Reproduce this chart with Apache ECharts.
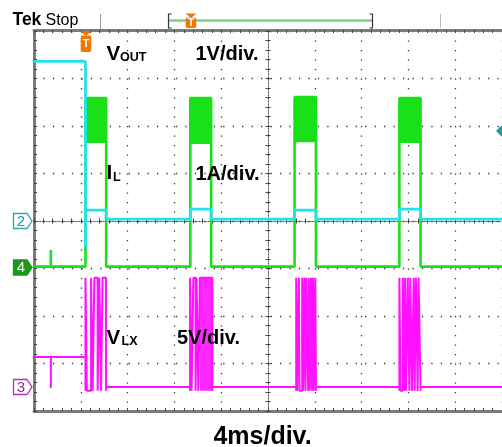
<!DOCTYPE html>
<html><head><meta charset="utf-8">
<script src="https://cdn.jsdelivr.net/npm/echarts@6/dist/echarts.min.js"></script>
<style>html,body{margin:0;padding:0;background:#fff}#c{width:502px;height:447px}</style>
</head><body><div id="c"></div>
<script>
// ---- time base: 4 ms/div, 10 divisions (ms) ----
const timeTicks = [0, 4, 8, 12, 16, 20, 24, 28, 32, 36, 40];
// burst windows (ms)
const burstStart = [4.40, 13.36, 22.27, 31.23];
const burstEnd   = [6.17, 15.14, 24.10, 33.04];

// ---- CH2 VOUT (V), 1 V/div ----
const voutBefore  = 3.36;
const voutDip     = -0.55;
const voutInBurst = [0.23, 0.25, 0.23, 0.25];
const voutIdle    = 0.04;

// ---- CH4 IL (A), 1 A/div ----
const ilIdle      = 0;
const ilSpike     = [1.44, 0.35];          // [ms, A]
const ilBandLow   = [2.60, 2.58, 2.62, 2.60];
const ilBandHigh  = [3.55, 3.55, 3.57, 3.55];

// ---- CH3 VLX (V), 5 V/div ----
const vlxBefore   = 3.26;
const vlxSpike    = [1.44, 0.0];           // [ms, V]
const vlxHigh     = 11.6;
const vlxLow      = -0.3;
const vlxIdle     = 0.1;
// switching pulses (ms) inside each burst: [rise, fall]
const vlxPulses = [
  [[4.40,4.51],[4.88,5.01],[5.16,5.44],[5.58,5.73],[5.86,6.15]],
  [[13.34,13.47],[13.62,13.81],[13.89,14.04],[14.18,15.25]],
  [[22.41,22.49],[22.64,22.69],[22.92,23.00],[23.11,23.20],[23.28,23.43],[23.49,23.57],[23.68,23.77],[23.85,23.91],[24.04,24.10]],
  [[31.23,31.33],[31.52,31.65],[31.71,31.80],[31.94,32.08],[32.16,32.31],[32.45,32.53],[32.64,32.79],[32.87,33.04]]
];
// bursts where switching is too dense to resolve (ms)
const vlxDense = [[14.18, 15.25]];

// ---------- build series data ----------
function buildVout(){
  const d = [[0, voutBefore], [burstStart[0], voutBefore], [burstStart[0], voutDip]];
  burstStart.forEach((s, i) => {
    if (i > 0) d.push([s, voutIdle]);
    d.push([s, voutInBurst[i]], [burstEnd[i], voutInBurst[i]], [burstEnd[i], voutIdle]);
  });
  d.push([timeTicks[timeTicks.length-1], voutIdle]);
  return d;
}
function buildIL(){
  const d = [[0, ilIdle], [ilSpike[0], ilIdle], [ilSpike[0], ilSpike[1]], [ilSpike[0], ilIdle]];
  burstStart.forEach((s, i) => {
    d.push([s, ilIdle], [s, ilBandHigh[i]], [burstEnd[i], ilBandHigh[i]], [burstEnd[i], ilIdle]);
  });
  d.push([timeTicks[timeTicks.length-1], ilIdle]);
  return d;
}
function buildVlx(){
  const d = [[0, vlxBefore], [vlxSpike[0], vlxBefore], [vlxSpike[0], vlxSpike[1]], [vlxSpike[0], vlxBefore]];
  vlxPulses.forEach((burst, i) => {
    d.push([burst[0][0], i === 0 ? vlxBefore : vlxIdle]);
    burst.forEach(([a, b]) => { d.push([a, vlxLow], [a, vlxHigh], [b, vlxHigh], [b, vlxLow]); });
    d.push([burst[burst.length-1][1], vlxIdle]);
  });
  d.push([timeTicks[timeTicks.length-1], vlxIdle]);
  return d;
}

const FONT = '"Liberation Sans", Arial, sans-serif';
const dotH = [1.3, 8.16];   // dots along horizontal graticule lines
const dotV = [1.3, 8.2];    // dots along vertical graticule lines
const tickCol = '#444';
const borderCol = '#7c7c7c';

function centerX(inside, split){
  return {gridIndex:0, type:'value', min:-5, max:5, interval:1, position:'bottom',
    axisLine:{show:true, onZero:true, onZeroAxisIndex:0, lineStyle:{color:'#555', width:1, type:[1,2]}},
    axisTick:{show:true, inside:inside, length:2.5, lineStyle:{color:tickCol}},
    minorTick:{show:true, splitNumber:5, length:2.5, lineStyle:{color:tickCol}},
    axisLabel:{show:false},
    splitLine:{show:split, lineStyle:{color:'#333', width:1.3, type:dotV}},
    minorSplitLine:{show:false}, z:1};
}
function centerY(inside, split){
  return {gridIndex:0, type:'value', min:-4, max:4, interval:1, position:'left',
    axisLine:{show:true, onZero:true, onZeroAxisIndex:0, lineStyle:{color:'#555', width:1, type:[1,2]}},
    axisTick:{show:true, inside:inside, length:2.5, lineStyle:{color:tickCol}},
    minorTick:{show:true, splitNumber:5, length:2.5, lineStyle:{color:tickCol}},
    axisLabel:{show:false},
    splitLine:{show:split, lineStyle:{color:'#333', width:1.3, type:dotH}},
    minorSplitLine:{show:false}, z:1};
}
function edgeX(pos, offset){
  return {gridIndex:0, type:'value', min:-5, max:5, interval:1, position:pos, offset:offset||0,
    axisLine:{show:true, onZero:false, lineStyle:{color:borderCol, width:3}},
    axisTick:{show:true, inside:true, length:3, lineStyle:{color:tickCol}},
    minorTick:{show:true, splitNumber:5, length:3, lineStyle:{color:tickCol}},
    axisLabel:{show:false}, splitLine:{show:false}, z:1};
}
function edgeY(pos){
  return {gridIndex:0, type:'value', min:-4, max:4, interval:1, position:pos,
    axisLine:{show:true, onZero:false, lineStyle:{color:borderCol, width:3}},
    axisTick:{show:true, inside:true, length:3, lineStyle:{color:tickCol}},
    minorTick:{show:true, splitNumber:5, length:3, lineStyle:{color:tickCol}},
    axisLabel:{show:false}, splitLine:{show:false}, z:1};
}
function hiddenY(min, max){
  return {gridIndex:0, type:'value', min:min, max:max, show:false, position:'right',
    axisLine:{onZero:false}, splitLine:{show:false}};
}

const txt = (text, x, y, size, bold, color, align) => ({
  type:'text', z:100, x:x, y:y,
  style:{text:text, font:(bold?'bold ':'') + size + 'px ' + FONT, fill:color||'#000',
         align:align||'left', verticalAlign:'middle'}
});

function chanBox(label, yc, stroke, fill, textColor){
  return [
    {type:'polygon', z:100, shape:{points:[[13.5,yc-7.5],[27,yc-7.5],[32,yc],[27,yc+7.5],[13.5,yc+7.5]]},
     style:{fill:fill, stroke:stroke, lineWidth:1.3}},
    txt(label, 21, yc+0.5, 15, false, textColor, 'center')
  ];
}
function trigT(xc, ytop, h){
  return [
    {type:'polygon', z:100, shape:{points:[[xc-5.5,ytop],[xc+5.5,ytop],[xc,ytop+4.5]]}, style:{fill:'#f07800'}},
    {type:'rect', z:100, shape:{x:xc-5.3, y:ytop+4, width:10.6, height:h, r:2}, style:{fill:'#f07800'}},
    txt('T', xc, ytop+4+h/2+0.5, 11, true, '#fff', 'center')
  ];
}

const chart = echarts.init(document.getElementById('c'));
chart.setOption({
  animation:false,
  backgroundColor:'#fff',
  grid:{left:34, top:31, width:473, height:380, show:false, containLabel:false},
  xAxis:[
    centerX(false, true),
    centerX(true, false),
    edgeX('top', 1),
    edgeX('bottom', 0),
    {gridIndex:0, type:'value', min:timeTicks[0], max:timeTicks[timeTicks.length-1], interval:4,
     show:false, position:'bottom', axisLine:{onZero:false}, splitLine:{show:false}}
  ],
  yAxis:[
    centerY(false, true),
    centerY(true, false),
    edgeY('left'),
    hiddenY(-4, 4),          // VOUT 1 V/div, ground at centre
    hiddenY(-3.04, 4.96),    // IL 1 A/div
    hiddenY(-2.42, 37.58)    // VLX 5 V/div
  ],
  series:[
    {name:'IL', type:'line', xAxisIndex:4, yAxisIndex:4, data:buildIL(), symbol:'none', z:3,
     lineStyle:{color:'#19e019', width:2.6},
     markArea:{silent:true, itemStyle:{color:'#19e019', opacity:1},
       data:burstStart.map((s,i)=>[{xAxis:s, yAxis:ilBandLow[i]},{xAxis:burstEnd[i], yAxis:ilBandHigh[i]}])}},
    {name:'VOUT', type:'line', xAxisIndex:4, yAxisIndex:3, data:buildVout(), symbol:'none', z:4,
     lineStyle:{color:'#22e2ee', width:2.8}},
    {name:'VLX', type:'line', xAxisIndex:4, yAxisIndex:5, data:buildVlx(), symbol:'none', z:5,
     lineStyle:{color:'#ff10ff', width:2}},
  ],
  graphic:{elements:[
    // top status bar
    txt('Tek', 12.5, 20.5, 17.5, true, '#000'),
    txt('Stop', 45.5, 20.5, 16, false, '#000'),
    {type:'line', z:100, shape:{x1:100.5, y1:14, x2:100.5, y2:29}, style:{stroke:'#999', lineWidth:1}},
    {type:'line', z:100, shape:{x1:169, y1:20.5, x2:372, y2:20.5}, style:{stroke:'#80d080', lineWidth:2.5}},
    {type:'polyline', z:100, shape:{points:[[171.5,14],[168.5,14],[168.5,28],[171.5,28]]}, style:{stroke:'#333', lineWidth:1.2, fill:null}},
    {type:'polyline', z:100, shape:{points:[[369.5,14],[372.5,14],[372.5,28],[369.5,28]]}, style:{stroke:'#333', lineWidth:1.2, fill:null}},
    {type:'line', z:100, shape:{x1:440.5, y1:14, x2:440.5, y2:28}, style:{stroke:'#bbb', lineWidth:1}},
    ...trigT(191, 13.5, 10.5),
    // trigger marker on graticule
    ...trigT(86, 31.5, 16.5),
    // trigger level diamond (right edge)
    {type:'polygon', z:100, shape:{points:[[496,131],[501.5,125.5],[507,131],[501.5,136.5]]}, style:{fill:'#169a9a'}},
    // channel ground markers
    ...chanBox('2', 221, '#2aa8b0', '#fff', '#1e9aa2'),
    ...chanBox('4', 267.5, '#1f961f', '#1f961f', '#fff'),
    ...chanBox('3', 387, '#b030b0', '#fff', '#a020a0'),
    // annotations
    txt('V', 106.5, 54.5, 20.5, true),
    txt('OUT', 120, 58, 12.5, true),
    txt('1V/div.', 195.5, 54, 20, true),
    txt('I', 106.5, 173, 20.5, true),
    txt('L', 113, 178, 12.5, true),
    txt('1A/div.', 195.5, 174, 20, true),
    txt('V', 106.5, 338, 20.5, true),
    txt('LX', 121.5, 342, 12.5, true),
    txt('5V/div.', 177, 338, 20, true),
    txt('4ms/div.', 262.5, 437.5, 25, true, '#000', 'center')
  ]}
});
// dense switching bursts are drawn as filled bands on the VLX axes
chart.setOption({series:[{},{},{markArea:{silent:true, itemStyle:{color:'#ff10ff', opacity:0.9},
  data:vlxDense.map(([a,b])=>[{xAxis:a, yAxis:vlxLow},{xAxis:b, yAxis:vlxHigh}])}}]});
</script></body></html>
